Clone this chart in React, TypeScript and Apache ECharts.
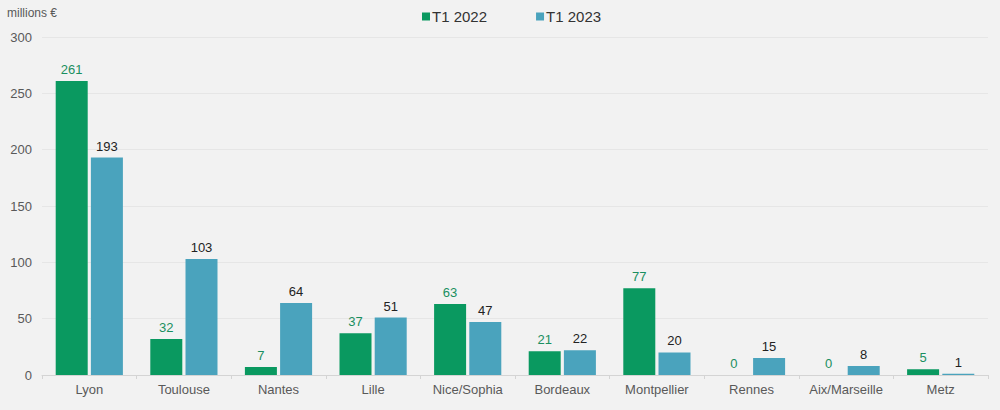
import React, { useEffect, useRef } from "react";
import * as echarts from "echarts";

const categories = ["Lyon", "Toulouse", "Nantes", "Lille", "Nice/Sophia", "Bordeaux", "Montpellier", "Rennes", "Aix/Marseille", "Metz"];
const t1_2022 = [261, 32, 7, 37, 63, 21, 77, 0, 0, 5];
const t1_2023 = [193, 103, 64, 51, 47, 22, 20, 15, 8, 1];
const seriesNames = ["T1 2022", "T1 2023"];
const yTicks = { min: 0, max: 300, interval: 50 };

const FONT = "Liberation Sans, Arial, sans-serif";

export default function App() {
  const ref = useRef<HTMLDivElement>(null);
  useEffect(() => {
    const chart = echarts.init(ref.current!, null, { renderer: "svg" });
    chart.setOption({
      animation: false,
      backgroundColor: "#f2f2f2",
      textStyle: { fontFamily: FONT },
      legend: {
        top: 9,
        left: 422,
        padding: 0,
        itemWidth: 8,
        itemHeight: 8,
        itemGap: 49,
        icon: "rect",
        textStyle: { fontSize: 15, color: "#333333", fontFamily: FONT, padding: [0, 0, 0, -3] },
        data: seriesNames,
      },
      grid: { left: 42, right: 12, top: 37, bottom: 35, containLabel: false },
      xAxis: {
        type: "category",
        data: categories,
        axisLine: { lineStyle: { color: "#d4d4d4" } },
        axisTick: { show: true, length: 4, lineStyle: { color: "#d4d4d4" } },
        axisLabel: { color: "#595959", fontSize: 13, margin: 8, interval: 0, fontFamily: FONT },
      },
      yAxis: {
        type: "value",
        min: yTicks.min,
        max: yTicks.max,
        interval: yTicks.interval,
        name: "millions €",
        nameLocation: "end",
        nameGap: 0,
        nameTextStyle: { color: "#595959", fontSize: 12, align: "left", padding: [0, 0, 18, -35], fontFamily: FONT },
        axisLine: { show: false },
        axisTick: { show: false },
        axisLabel: { color: "#595959", fontSize: 13, margin: 10, fontFamily: FONT },
        splitLine: { lineStyle: { color: "#e6e6e6" } },
      },
      series: [
        {
          name: seriesNames[0],
          type: "bar",
          data: t1_2022,
          barWidth: 32,
          barGap: "10%",
          itemStyle: { color: "#0a9960" },
          label: { show: true, position: "top", distance: 5, color: "#1a8f60", fontSize: 13, fontFamily: FONT },
        },
        {
          name: seriesNames[1],
          type: "bar",
          data: t1_2023,
          barWidth: 32,
          barGap: "10%",
          itemStyle: { color: "#4aa3bd" },
          label: { show: true, position: "top", distance: 5, color: "#222222", fontSize: 13, fontFamily: FONT },
        },
      ],
    });
    return () => chart.dispose();
  }, []);
  return <div ref={ref} style={{ position: "fixed", left: 0, top: 0, width: 1000, height: 410 }} />;
}
